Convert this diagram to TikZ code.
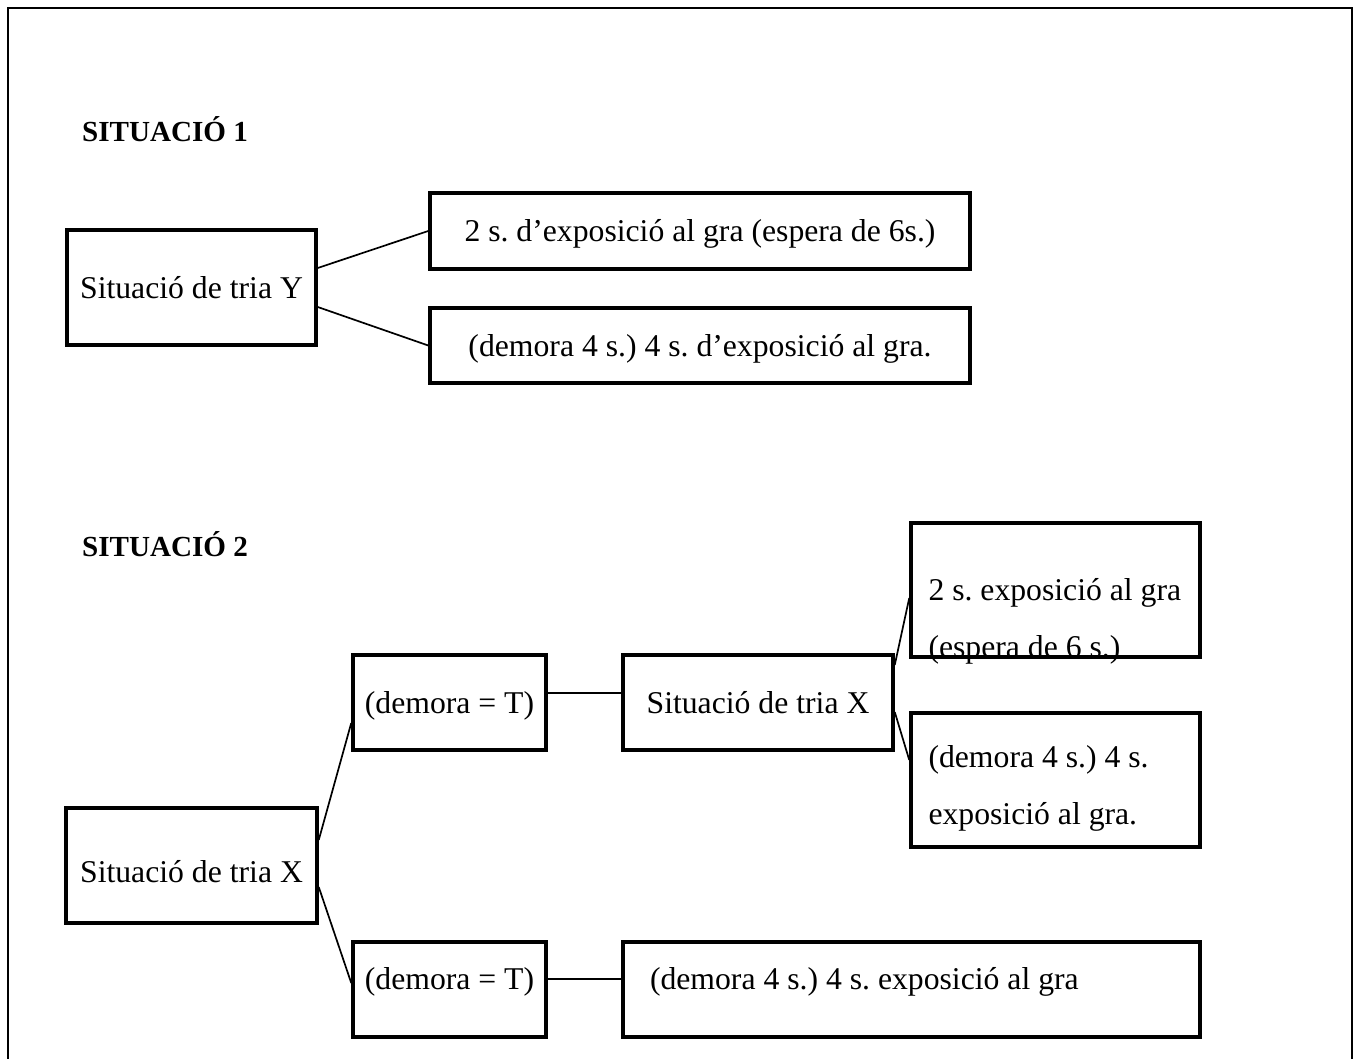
\documentclass[tikz,border=0pt]{standalone}
\usepackage{fontspec}
\setmainfont{Liberation Serif}
\usepackage{tikz}
\frenchspacing

\begin{document}
\begin{tikzpicture}[
        x=1pt, y=-1pt, line join=miter,
        caixa/.style={draw, line width=3.5pt, inner sep=0pt, text height=21.6pt, text depth=0pt,
                      font=\fontsize{31.7pt}{57pt}\selectfont\frenchspacing},
        titol/.style={anchor=base west, inner sep=0pt, font=\bfseries\fontsize{29.1pt}{35pt}\selectfont},
        lin/.style={line width=1.7pt},
        ]

        \useasboundingbox (0,0) rectangle (1361,1059);
        \draw[line width=2pt] (8,1059) -- (8,8) -- (1352,8) -- (1352,1059);

        \node[titol] (sit_1) at (82,142) {SITUACIÓ 1};
        \node[caixa, minimum width=249pt, minimum height=115pt] (b_y)  at (191.5,287.5) {Situació de tria Y};
        \node[caixa, minimum width=540pt, minimum height=76pt]  (b_y1) at (700,231)     {2 s. d’exposició al gra (espera de 6s.)};
        \node[caixa, minimum width=540pt, minimum height=75pt]  (b_y2) at (700,345.5)   {(demora 4 s.) 4 s. d’exposició al gra.};

        \draw[lin] ([yshift=19.5pt]b_y.east) -- (b_y1.west);
        \draw[lin] ([yshift=-19.5pt]b_y.east) -- (b_y2.west);

        \node[titol] (sit_2) at (82,556) {SITUACIÓ 2};
        \node[caixa, minimum width=251pt, minimum height=115pt, text height=34pt] (b_x) at (191.5,865.5) {Situació de tria X};
        \node[caixa, minimum width=193pt, minimum height=95pt] (b_d1) at (449.5,702.5) {(demora = T)};
        \node[caixa, minimum width=193pt, minimum height=95pt, text depth=22pt] (b_d2) at (449.5,989.5) {(demora = T)};
        \node[caixa, minimum width=270pt, minimum height=95pt] (b_x2) at (758,702.5) {Situació de tria X};
        \node[caixa, minimum width=289pt, minimum height=134pt, text width=254pt, align=flush left,
              text height=77pt, text depth=57pt] (b_e1) at (1055.5,590) {2 s. exposició al gra\\(espera de 6 s.)};
        \node[caixa, minimum width=289pt, minimum height=134pt, text width=254pt, align=flush left,
              text height=54pt, text depth=80pt] (b_e2) at (1055.5,780) {(demora 4 s.) 4 s.\\exposició al gra.};
        \node[caixa, minimum width=577pt, minimum height=95pt, text width=523pt, align=flush left,
              text depth=22pt] (b_e3) at (911.5,989.5) {(demora 4 s.) 4 s. exposició al gra};

        \draw[lin] ([yshift=25.5pt]b_x.east) -- ([yshift=-20.5pt]b_d1.west);
        \draw[lin] ([yshift=-21.5pt]b_x.east) -- ([yshift=6.5pt]b_d2.west);
        \draw[lin] ([yshift=9.5pt]b_d1.east) -- ([yshift=9.5pt]b_x2.west);
        \draw[lin] ([yshift=10.5pt]b_d2.east) -- ([yshift=10.5pt]b_e3.west);
        \draw[lin] ([yshift=37.5pt]b_x2.east) -- ([yshift=-8pt]b_e1.west);
        \draw[lin] ([yshift=-9.5pt]b_x2.east) -- ([yshift=20pt]b_e2.west);
      \end{tikzpicture}
\end{document}
